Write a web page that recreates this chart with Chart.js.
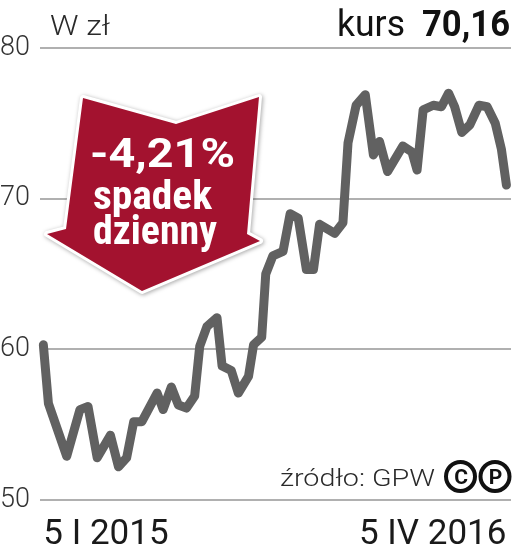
<!DOCTYPE html>
<html><head><meta charset="utf-8">
<script src="https://cdn.jsdelivr.net/npm/chart.js@4/dist/chart.umd.min.js"></script>
<style>html,body{margin:0;padding:0;background:#fff}#w{width:516px;height:551px}</style>
</head><body><div id="w"><canvas id="c"></canvas></div>
<script>
const days = [0,5,23,36,44,53,66,74,82,89,97,112,118,126,133,141,149,154,161,171,176,185,192,202,207,215,219,226,236,243,251,259,266,272,287,295,300,308,317,325,331,339,354,363,368,374,384,392,399,405,412,420,429,437,445,451,456];
const prices = [60.3,56.4,52.9,56.0,56.2,52.8,54.3,52.2,52.8,55.2,55.2,57.1,56.0,57.5,56.3,56.1,56.9,60.2,61.5,62.1,58.9,58.6,57.1,58.2,60.3,60.8,65.0,66.2,66.5,69.0,68.7,65.3,65.3,68.3,67.7,68.4,73.7,76.2,76.9,72.9,73.8,71.8,73.5,73.1,71.9,75.9,76.2,76.1,77.0,76.1,74.4,74.9,76.2,76.1,75.0,73.3,70.9];
const xTickDays = [0, 456];
const xTickLabels = ['5 I 2015', '5 IV 2016'];
const yTicks = [50, 60, 70, 80];
const unitLabel = 'W zł';
const priceLabel = 'kurs';
const priceValue = '70,16';
const changeLines = ['-4,21%', 'spadek', 'dzienny'];
const sourceLabel = 'źródło: GPW';

const FONT = "Roboto, 'Liberation Sans', sans-serif";
const CFONT = "'Roboto Condensed', 'Liberation Sans Narrow', Roboto, sans-serif";

function fitText(ctx, text, font, x, y, w, align) {
  ctx.save();
  ctx.font = font;
  ctx.textAlign = 'left';
  ctx.textBaseline = 'alphabetic';
  const m = ctx.measureText(text).width;
  const s = w / m;
  let left = x;
  if (align === 'right') left = x - w;
  else if (align === 'center') left = x - w / 2;
  ctx.translate(left, y);
  ctx.scale(s, 1);
  ctx.fillText(text, 0, 0);
  ctx.restore();
}

const deco = {
  id: 'deco',
  afterDatasetsDraw(chart) {
    const ctx = chart.ctx;
    ctx.save();
    // header
    ctx.fillStyle = '#2a2a2a';
    fitText(ctx, unitLabel, "300 28px " + FONT, 50, 35, 60, 'left');
    ctx.fillStyle = '#111';
    fitText(ctx, priceLabel, "400 37px " + FONT, 405, 36, 68, 'right');
    fitText(ctx, priceValue, "700 36px " + FONT, 510, 36, 88, 'right');

    // arrow badge
    const pts = [[83,98],[176,124],[259,97],[247,234],[260,241],[142,291],[47,234],[66,229]];
    ctx.beginPath();
    pts.forEach((p,i)=> i?ctx.lineTo(p[0],p[1]):ctx.moveTo(p[0],p[1]));
    ctx.closePath();
    ctx.lineJoin = 'round';
    ctx.shadowColor = 'rgba(0,0,0,0.35)';
    ctx.shadowBlur = 4;
    ctx.shadowOffsetX = 1; ctx.shadowOffsetY = 1;
    ctx.strokeStyle = '#fff';
    ctx.lineWidth = 6;
    ctx.stroke();
    ctx.shadowColor = 'transparent';
    ctx.fillStyle = '#a3122f';
    ctx.fill();
    ctx.fillStyle = '#fff';
    fitText(ctx, changeLines[0], "700 41px " + FONT, 90, 167, 145, 'left');
    fitText(ctx, changeLines[1], "700 40px " + CFONT, 93, 209, 119, 'left');
    fitText(ctx, changeLines[2], "700 40px " + CFONT, 93, 244, 124, 'left');

    // source
    ctx.fillStyle = '#2a2a2a';
    fitText(ctx, sourceLabel, "300 23px " + FONT, 280, 486, 155, 'left');
    // circled C and P
    [[460.5,'C'],[495,'P']].forEach(([cx,ch])=>{
      ctx.beginPath();
      ctx.arc(cx, 476.5, 14.5, 0, Math.PI*2);
      ctx.lineWidth = 4;
      ctx.strokeStyle = '#111';
      ctx.stroke();
      ctx.fillStyle = '#111';
      ctx.textAlign = 'center';
      ctx.textBaseline = 'alphabetic';
      ctx.font = "700 21px " + FONT;
      ctx.fillText(ch, cx + 0.5, 484);
    });
    ctx.restore();
  }
};

new Chart(document.getElementById('c'), {
  type: 'line',
  data: {
    datasets: [{
      data: days.map((d,i)=>({x:d, y:prices[i]})),
      borderColor: '#616161',
      borderWidth: 9,
      borderCapStyle: 'round',
      borderJoinStyle: 'round',
      pointRadius: 0,
      tension: 0,
      fill: false,
      clip: false
    }]
  },
  options: {
    responsive: true,
    maintainAspectRatio: false,
    animation: false,
    layout: { padding: { top: 48, right: 5, left: 0, bottom: 0 } },
    plugins: { legend: { display: false }, tooltip: { enabled: false } },
    scales: {
      x: {
        type: 'linear',
        min: -3.3, max: 460.5,
        grid: { display: false },
        border: { display: false },
        afterBuildTicks: s => { s.ticks = xTickDays.map(v=>({value:v})); },
        afterFit: s => { s.height = 51; },
        ticks: {
          autoSkip: false, maxRotation: 0, align: 'inner', padding: 6,
          color: '#1a1a1a',
          font: { family: FONT, size: 35 },
          callback: (v) => { const i = xTickDays.indexOf(v); return i >= 0 ? xTickLabels[i] : ''; }
        }
      },
      y: {
        min: 50, max: 80,
        afterBuildTicks: s => { s.ticks = yTicks.map(v=>({value:v})); },
        afterFit: s => { s.width = 40; },
        grid: { color: '#b0b0b0', lineWidth: 2, drawTicks: false },
        border: { display: false },
        ticks: {
          crossAlign: 'far', padding: 6,
          color: '#333',
          font: { family: FONT, size: 27, weight: '300' }
        }
      }
    }
  },
  plugins: [deco]
});
</script></body></html>
